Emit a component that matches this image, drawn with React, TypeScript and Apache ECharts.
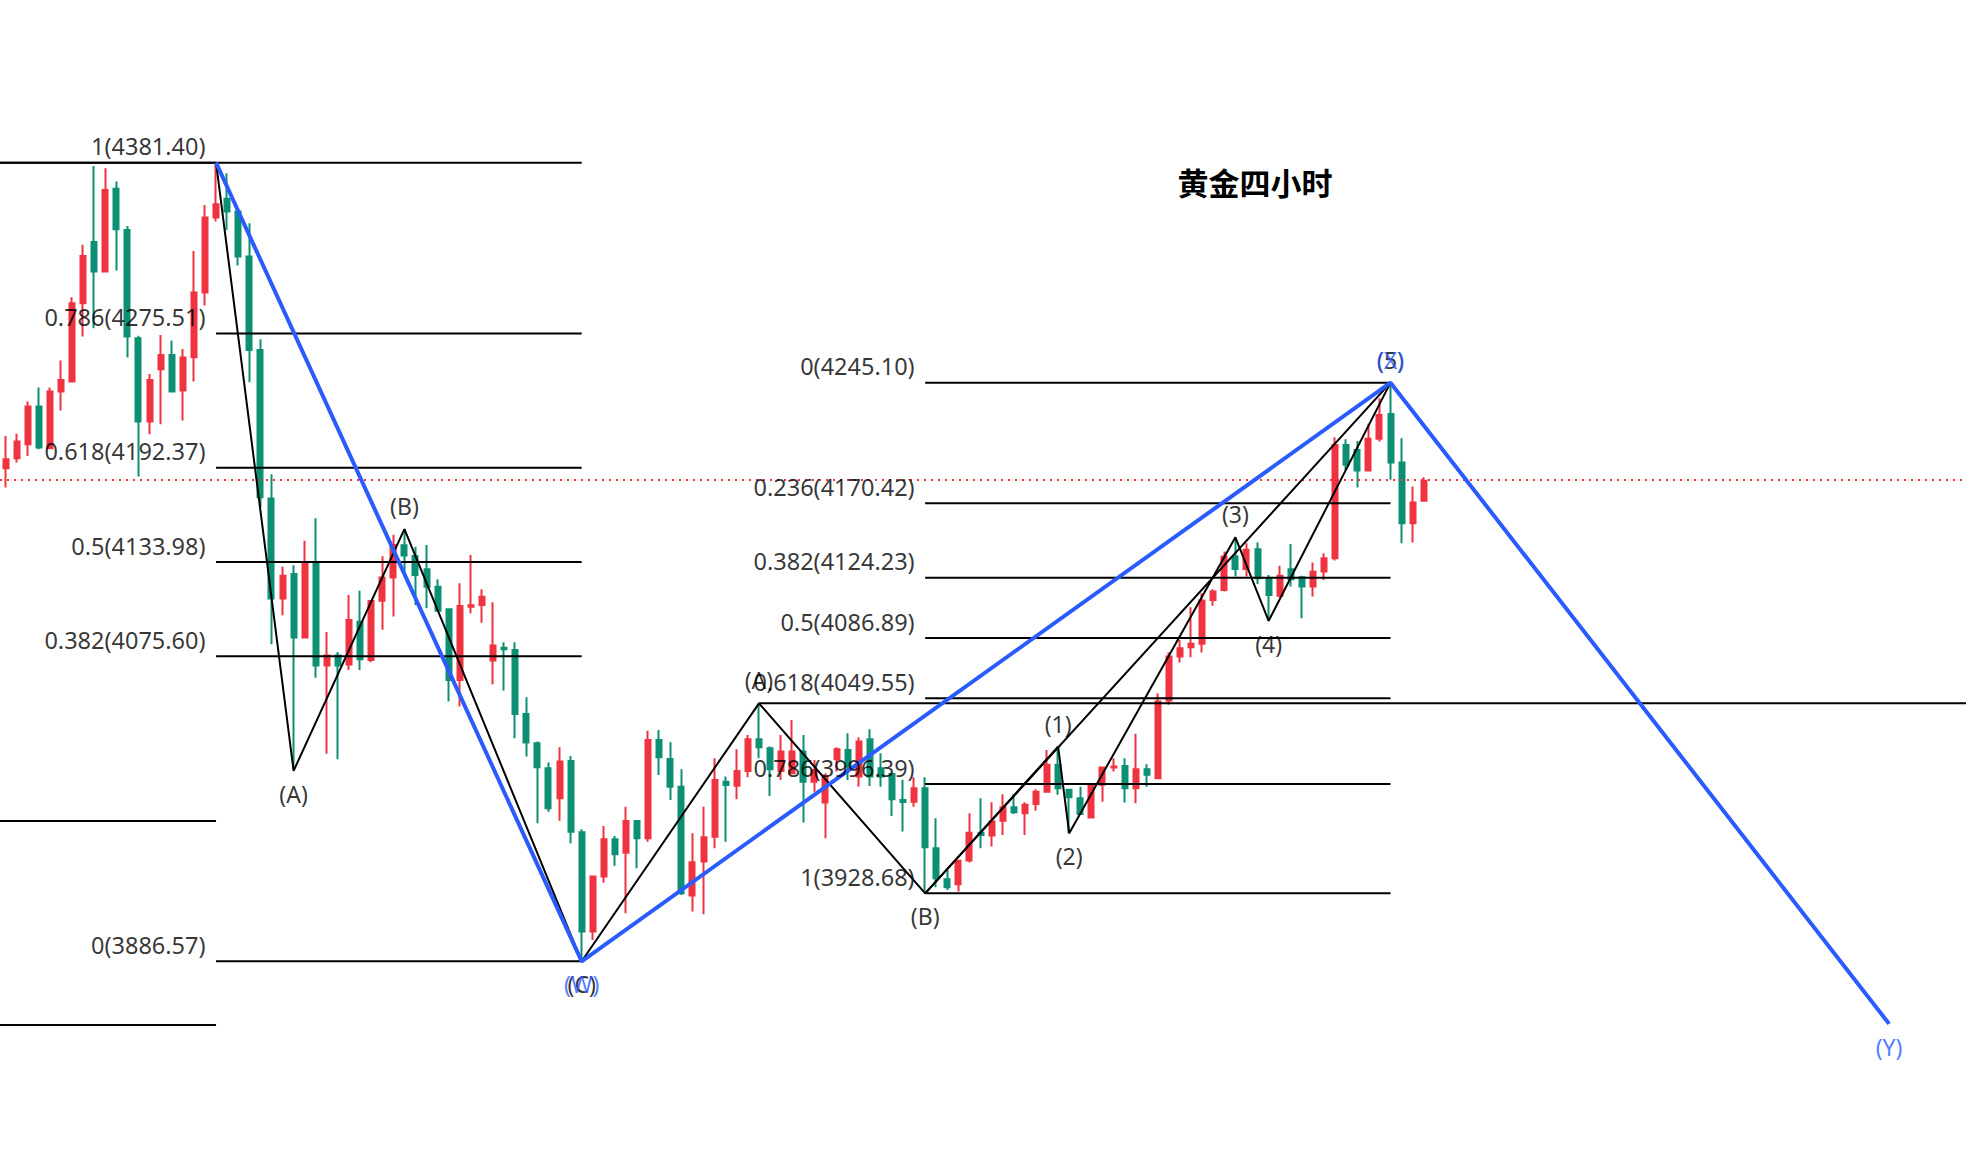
import React, { useEffect, useRef } from "react";
import * as echarts from "echarts";

// ---- candle data (index 0..128) ----
const opens = [
  4192.1, 4198.3, 4207.0, 4230.3, 4204.5, 4239.6, 4245.8, 4294.3, 4332.3, 4313.9,
  4365.2, 4339.7, 4272.6, 4221.0, 4253.4, 4262.3, 4240.2, 4260.9, 4300.9, 4347.4,
  4359.0, 4351.1, 4323.2, 4265.4, 4173.3, 4111.4, 4126.5, 4087.2, 4133.8, 4069.9,
  4076.0, 4070.4, 4097.0, 4073.2, 4110.0, 4124.4, 4144.3, 4137.7, 4129.5, 4118.7,
  4104.7, 4060.9, 4106.3, 4107.4, 4072.9, 4080.9, 4079.5, 4039.8, 4021.7, 4006.2,
  3987.6, 4010.7, 3966.5, 3905.0, 3939.1, 3962.2, 3953.9, 3973.5, 3962.8, 4023.7,
  4011.9, 3994.8, 3927.3, 3948.4, 3963.8, 3997.9, 3995.4, 4004.5, 4024.1, 4018.6,
  4004.5, 4003.1, 4016.5, 3997.9, 3984.9, 4011.7, 4017.5, 4001.0, 4024.1, 4006.2,
  4002.7, 3986.5, 3985.5, 3993.8, 3956.6, 3937.4, 3934.3, 3949.0, 3966.3, 3964.5,
  3973.6, 3982.0, 3978.3, 3984.1, 3991.7, 4008.3, 3992.8, 3987.6, 3975.6, 3995.9,
  4006.6, 4007.6, 3993.8, 4005.6, 4000.0, 4048.2, 4075.4, 4081.2, 4083.3, 4110.5,
  4116.7, 4137.4, 4129.7, 4141.9, 4123.9, 4113.0, 4129.5, 4124.6, 4118.8, 4128.1,
  4136.3, 4206.5, 4203.4, 4190.6, 4210.3, 4225.7, 4195.6, 4158.0, 4172.0,
];
const closes = [
  4197.7, 4208.6, 4230.3, 4204.9, 4239.6, 4246.8, 4294.3, 4323.6, 4313.9, 4364.5,
  4340.2, 4273.7, 4221.0, 4246.8, 4262.3, 4239.6, 4260.7, 4300.9, 4347.4, 4355.7,
  4351.1, 4323.2, 4265.4, 4174.1, 4111.4, 4125.4, 4087.2, 4133.8, 4069.9, 4076.0,
  4069.9, 4098.1, 4073.8, 4109.8, 4124.4, 4144.5, 4138.0, 4125.9, 4118.7, 4103.8,
  4060.9, 4106.7, 4107.2, 4112.5, 4082.2, 4079.9, 4039.8, 4022.1, 4006.8, 3981.4,
  4010.3, 3966.9, 3905.0, 3939.1, 3962.2, 3952.9, 3973.5, 3962.8, 4023.7, 4013.0,
  3994.8, 3928.7, 3947.9, 3963.4, 3998.9, 3995.8, 4004.5, 4024.1, 4019.2, 4005.5,
  4016.5, 4016.5, 3997.9, 4005.1, 4001.0, 4017.9, 4007.2, 4022.7, 4001.0, 4001.0,
  3987.0, 3985.3, 3993.8, 3957.2, 3938.0, 3932.5, 3948.8, 3966.3, 3964.9, 3973.2,
  3982.0, 3978.9, 3983.5, 3991.7, 4008.3, 3993.8, 3988.2, 3977.9, 3995.2, 4006.6,
  4007.2, 3993.8, 4005.6, 4002.1, 4047.5, 4075.4, 4080.6, 4083.3, 4110.1, 4115.7,
  4137.4, 4129.7, 4141.5, 4123.9, 4113.6, 4125.4, 4123.3, 4118.8, 4127.9, 4136.3,
  4206.5, 4194.2, 4190.6, 4210.3, 4225.1, 4195.6, 4158.0, 4170.8, 4184.4,
];
const lows = [
  4180.1, 4195.6, 4199.7, 4203.9, 4204.5, 4227.8, 4245.8, 4273.7, 4278.8, 4313.3,
  4314.6, 4260.7, 4186.9, 4213.2, 4219.4, 4239.6, 4221.6, 4245.8, 4292.9, 4344.9,
  4339.7, 4317.7, 4245.4, 4168.0, 4083.0, 4101.0, 4005.5, 4087.2, 4062.2, 4015.1,
  4011.8, 4067.1, 4067.1, 4071.8, 4092.0, 4100.2, 4125.0, 4107.4, 4105.3, 4103.8,
  4047.5, 4044.4, 4102.2, 4096.4, 4058.2, 4054.3, 4024.8, 4013.4, 3972.1, 3979.3,
  3973.7, 3959.7, 3886.6, 3899.8, 3935.3, 3945.7, 3916.3, 3944.2, 3960.7, 4002.0,
  3986.5, 3927.7, 3917.4, 3915.7, 3956.6, 3960.7, 3987.0, 4000.6, 4012.4, 3989.0,
  3998.9, 4003.1, 3972.5, 3991.7, 3962.8, 4004.1, 3998.9, 3994.8, 3995.2, 3994.8,
  3976.6, 3967.0, 3982.4, 3928.7, 3932.5, 3930.8, 3929.8, 3947.8, 3956.6, 3957.7,
  3964.9, 3977.9, 3964.9, 3979.9, 3991.7, 3989.7, 3965.9, 3977.9, 3975.2, 3985.5,
  4004.1, 3984.9, 3984.5, 3994.8, 3999.5, 4045.5, 4071.7, 4075.0, 4077.9, 4106.8,
  4115.7, 4125.0, 4125.0, 4120.4, 4097.5, 4112.2, 4118.8, 4099.2, 4112.6, 4122.9,
  4134.9, 4191.1, 4180.1, 4190.6, 4208.6, 4184.9, 4145.6, 4146.0, 4172.0,
];
const highs = [
  4212.1, 4213.4, 4233.4, 4242.1, 4242.1, 4258.8, 4298.0, 4330.5, 4379.4, 4377.9,
  4369.7, 4342.2, 4274.1, 4250.5, 4274.7, 4271.2, 4266.0, 4326.7, 4355.2, 4381.4,
  4374.9, 4351.1, 4343.9, 4272.0, 4188.3, 4131.2, 4132.0, 4147.1, 4161.1, 4090.6,
  4078.2, 4113.5, 4116.1, 4109.8, 4137.6, 4150.8, 4154.4, 4143.5, 4144.5, 4123.3,
  4104.7, 4120.8, 4138.3, 4117.1, 4109.0, 4084.2, 4084.2, 4050.2, 4022.7, 4009.7,
  4019.2, 4013.8, 3968.4, 3939.5, 3970.4, 3964.2, 3982.4, 3974.2, 4029.5, 4029.9,
  4022.3, 4005.5, 3965.9, 3982.4, 4012.4, 4001.0, 4017.9, 4026.8, 4046.4, 4019.6,
  4026.8, 4036.1, 4026.8, 4011.3, 4003.1, 4019.2, 4027.8, 4025.4, 4030.3, 4015.5,
  4003.1, 3999.0, 4000.6, 4000.6, 3975.2, 3943.2, 3948.8, 3978.3, 3987.6, 3985.1,
  3990.1, 3990.1, 3985.1, 3993.2, 4017.5, 4019.6, 3993.2, 3994.8, 3995.2, 4006.8,
  4012.4, 4012.4, 4027.5, 4008.7, 4052.7, 4078.1, 4085.7, 4106.0, 4114.6, 4117.1,
  4140.5, 4149.3, 4145.6, 4146.0, 4126.0, 4131.6, 4145.2, 4125.4, 4133.6, 4139.4,
  4211.3, 4210.1, 4209.0, 4219.6, 4235.5, 4245.1, 4210.7, 4180.7, 4186.5,
];

// ---- black wave count ----
const waveX = [19, 26, 36, 52, 68, 83, 95, 96, 111, 114, 125];
const waveY = [4381.4, 4004.6, 4154.4, 3886.57, 4046.4, 3928.68, 4019.6, 3965.9, 4149.3, 4097.5, 4245.1];
const waveLabels = ["", "(A)", "(B)", "(C)", "(A)", "(B)", "(1)", "(2)", "(3)", "(4)", "(5)"];
const waveLabelPos = ["", "bottom", "top", "bottom", "top", "bottom", "top", "bottom", "top", "bottom", "top"];
const diagX = [83, 125];
const diagY = [3928.68, 4245.1];

// ---- blue wave count ----
const blueX = [19, 52, 125, 170];
const blueY = [4381.4, 3886.57, 4245.1, 3847.8];
const blueLabels = ["", "(W)", "(X)", "(Y)"];
const blueLabelPos = ["", "bottom", "top", "bottom"];

// ---- fibonacci sets ----
const leftFibRatios = ["1", "0.786", "0.618", "0.5", "0.382", "0"];
const leftFibValues = [4381.4, 4275.51, 4192.37, 4133.98, 4075.6, 3886.57];
const leftFibRange = [19, 52];
const rightFibRatios = ["0", "0.236", "0.382", "0.5", "0.618", "0.786", "1"];
const rightFibValues = [4245.1, 4170.42, 4124.23, 4086.89, 4049.55, 3996.39, 3928.68];
const rightFibRange = [83, 125];
const priorFibValues = [4381.4, 3973.5, 3847.1];
const priorFibRange = [-0.5, 19];

const aLevel = 4046.4;
const aLevelStart = 68;
const lastPrice = 4184.8;

const X_MIN = -0.5;
const X_MAX = 176.94;
const Y_MIN = 3758.5;
const Y_MAX = 4482.2;

const RED = "#EF3340";
const GREEN = "#0C8F73";
const BLUE = "#2A5BFF";
const INK = "#000000";

export default function App() {
  const ref = useRef<HTMLDivElement>(null);
  useEffect(() => {
    if (!ref.current) return;
    const chart = echarts.init(ref.current, null, { renderer: "svg" });
    const series: any[] = [];

    series.push({
      type: "candlestick",
      data: opens.map((o, i) => [i, o, closes[i], lows[i], highs[i]]),
      barWidth: 5.5,
      itemStyle: { color: RED, color0: GREEN, borderColor: RED, borderColor0: GREEN, borderWidth: 2 },
      z: 2,
      silent: true,
    });

    const seg = (x1: number, x2: number, y: number, style: any) => ({
      type: "line",
      data: [[x1, y], [x2, y]],
      symbol: "none",
      silent: true,
      lineStyle: style,
      z: 3,
    });

    const fibStyle = { color: INK, width: 2 };
    leftFibValues.forEach((v, i) => {
      series.push(seg(i === 0 ? X_MIN : leftFibRange[0], leftFibRange[1], v, fibStyle));
    });
    rightFibValues.forEach((v) => series.push(seg(rightFibRange[0], rightFibRange[1], v, fibStyle)));
    priorFibValues.forEach((v) => series.push(seg(priorFibRange[0], priorFibRange[1], v, fibStyle)));
    series.push(seg(aLevelStart, X_MAX, aLevel, { color: INK, width: 2 }));
    series.push(seg(X_MIN, X_MAX, lastPrice, { color: RED, width: 2, type: [2, 5] }));

    // black zigzag
    series.push({
      type: "line",
      data: waveX.map((x, i) => [x, waveY[i]]),
      symbol: "none",
      silent: true,
      lineStyle: { color: INK, width: 2 },
      z: 4,
    });
    series.push({
      type: "line",
      data: diagX.map((x, i) => [x, diagY[i]]),
      symbol: "none",
      silent: true,
      lineStyle: { color: INK, width: 2 },
      z: 4,
    });
    // blue zigzag
    series.push({
      type: "line",
      data: blueX.map((x, i) => [x, blueY[i]]),
      symbol: "none",
      silent: true,
      lineStyle: { color: BLUE, width: 4 },
      z: 5,
    });

    const fibLabelData = [
      ...leftFibValues.map((v, i) => ({ name: `${leftFibRatios[i]}(${v.toFixed(2)})`, value: [leftFibRange[0], v] })),
      ...rightFibValues.map((v, i) => ({ name: `${rightFibRatios[i]}(${v.toFixed(2)})`, value: [rightFibRange[0], v] })),
    ];
    series.push({
      type: "scatter",
      symbolSize: 1,
      silent: true,
      itemStyle: { color: "rgba(0,0,0,0)" },
      data: fibLabelData,
      label: {
        show: true,
        formatter: "{b}",
        position: [-10, -16],
        align: "right",
        verticalAlign: "middle",
        fontSize: 23.5,
        fontFamily: "Noto Sans",
        color: INK,
      },
      z: 6,
    });

    const waveLabelData: any[] = [];
    waveX.forEach((x, i) => {
      if (!waveLabels[i]) return;
      waveLabelData.push({
        name: waveLabels[i],
        value: [x, waveY[i]],
        label: { position: waveLabelPos[i], color: INK },
      });
    });
    blueX.forEach((x, i) => {
      if (!blueLabels[i]) return;
      waveLabelData.push({
        name: blueLabels[i],
        value: [x, blueY[i]],
        label: { position: blueLabelPos[i], color: BLUE },
      });
    });
    series.push({
      type: "scatter",
      symbolSize: 1,
      silent: true,
      itemStyle: { color: "rgba(0,0,0,0)" },
      data: waveLabelData,
      label: {
        show: true,
        formatter: "{b}",
        distance: 11,
        fontSize: 23,
        fontFamily: "Noto Sans",
      },
      z: 7,
    });

    chart.setOption({
      animation: false,
      backgroundColor: "#ffffff",
      grid: { left: 0, right: 0, top: 0, bottom: 0, containLabel: false },
      xAxis: { type: "value", min: X_MIN, max: X_MAX, show: false, splitLine: { show: false } },
      yAxis: { type: "value", min: Y_MIN, max: Y_MAX, show: false, scale: true, splitLine: { show: false } },
      graphic: [
        {
          type: "text",
          x: 1255,
          y: 181,
          style: {
            text: "黄金四小时",
            font: 'bold 31px "Noto Sans CJK SC"',
            fill: "#000",
            align: "center",
            verticalAlign: "middle",
            textAlign: "center",
            textVerticalAlign: "middle",
          },
          z: 10,
        },
      ],
      series,
    });
    return () => chart.dispose();
  }, []);
  return (
    <div
      ref={ref}
      style={{ position: "fixed", left: 0, top: 0, width: 1966, height: 1168, background: "#fff" }}
    />
  );
}
